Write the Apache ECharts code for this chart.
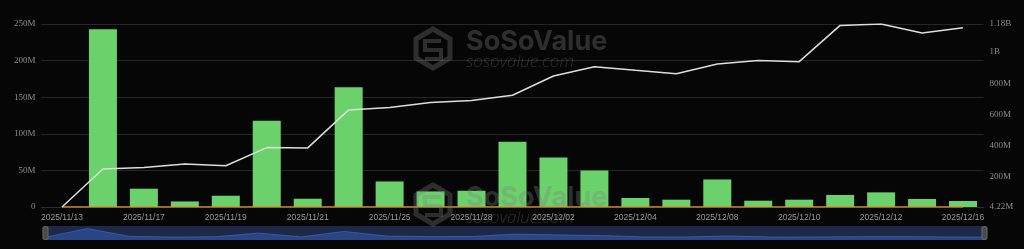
<!DOCTYPE html>
<html><head><meta charset="utf-8">
<script src="https://cdn.jsdelivr.net/npm/echarts@6/dist/echarts.min.js"></script>
<style>html,body{margin:0;padding:0;background:#060606;}#c{width:1024px;height:249px;}</style>
</head><body><div id="c"></div>
<script>
const categories = ['2025/11/13','2025/11/14','2025/11/17','2025/11/18','2025/11/19','2025/11/20','2025/11/21','2025/11/24','2025/11/25','2025/11/26','2025/11/28','2025/12/01','2025/12/02','2025/12/03','2025/12/04','2025/12/05','2025/12/08','2025/12/09','2025/12/10','2025/12/11','2025/12/12','2025/12/15','2025/12/16'];
const dailyInflow = [0, 242.8e6, 25e6, 7.6e6, 15.4e6, 117.7e6, 11.3e6, 163.7e6, 34.9e6, 21.3e6, 22.2e6, 89e6, 67.6e6, 50e6, 12.3e6, 10e6, 37.6e6, 8.6e6, 10e6, 16.4e6, 20e6, 10.9e6, 8.2e6];
const dailyOutflow = [0,0,0,0,0,0,0,0,0,0,0,0,0,0,0,0,0,0,0,0,0,0,0];
const cumulative = [4.22e6, 248e6, 258e6, 280e6, 269e6, 386e6, 384e6, 628e6, 643e6, 675e6, 688e6, 722e6, 846e6, 906e6, 883e6, 861e6, 923e6, 945e6, 938e6, 1171e6, 1180e6, 1122e6, 1156e6];
const leftMin = 0, leftMax = 250e6, leftInterval = 50e6;
const rightMin = 4.22e6, rightMax = 1.18e9;
const rightTicks = [4.22e6, 2e8, 4e8, 6e8, 8e8, 1e9, 1.18e9];

function fmt(v){
  if (v === 0) return '0';
  const trim = x => String(+x.toFixed(2));
  if (Math.abs(v) >= 1e9) return trim(v/1e9) + 'B';
  if (Math.abs(v) >= 1e6) return trim(v/1e6) + 'M';
  if (Math.abs(v) >= 1e3) return trim(v/1e3) + 'K';
  return trim(v);
}

const chart = echarts.init(document.getElementById('c'), null, {renderer:'canvas'});
const wmColor = 'rgba(128,128,128,0.33)';
function watermark(dy){
  return [
    {type:'polygon', silent:true, z:100, shape:{points:[[433,29+dy],[450,39+dy],[450,58+dy],[433,68+dy],[416,58+dy],[416,39+dy]]}, style:{fill:'none', stroke:wmColor, lineWidth:5}},
    {type:'polyline', silent:true, z:100, shape:{points:[[441,41+dy],[425,41+dy],[425,50+dy],[441,50+dy],[441,59+dy],[425,59+dy]]}, style:{fill:'none', stroke:wmColor, lineWidth:4}},
    {type:'text', silent:true, z:100, x:466, y:28+dy, style:{text:'SoSoValue', fill:wmColor, font:'bold 27px Inter'}},
    {type:'text', silent:true, z:100, x:466, y:54+dy, style:{text:'sosovalue.com', fill:wmColor, font:'italic 300 17px "Open Sans"'}}
  ];
}

chart.setOption({
  backgroundColor:'#060606',
  animation:false,
  grid:{left:41.5, right:40.5, top:24, bottom:42},
  xAxis:{
    type:'category', data:categories, boundaryGap:true,
    axisLine:{show:true, lineStyle:{color:'#2c2c2c'}},
    axisTick:{show:false},
    axisLabel:{color:'#9a9a9a', fontSize:8.5, fontFamily:'"Liberation Sans", Arial', interval:1, margin:6}
  },
  yAxis:[
    {type:'value', min:leftMin, max:leftMax, interval:leftInterval, position:'left',
     axisLine:{show:false}, axisTick:{show:false},
     splitLine:{lineStyle:{color:'#262626', width:1}},
     axisLabel:{color:'#8c8c8c', fontSize:9, fontFamily:'"Liberation Serif", "Times New Roman", serif', formatter:fmt, margin:6}},
    {type:'value', min:rightMin, max:rightMax, position:'right',
     axisLine:{show:false}, axisTick:{show:false}, splitLine:{show:false},
     axisLabel:{color:'#8c8c8c', fontSize:9, fontFamily:'"Liberation Serif", "Times New Roman", serif', formatter:fmt, margin:6, customValues:rightTicks}}
  ],
  dataZoom:[{
    type:'slider', xAxisIndex:0, start:0, end:100, left:42, right:41, top:226, height:14,
    backgroundColor:'#1b2440', borderColor:'transparent', fillerColor:'rgba(40,55,95,0.25)',
    dataBackground:{lineStyle:{color:'#3f66b4', width:1, opacity:1}, areaStyle:{color:'#2a4a92', opacity:1}},
    selectedDataBackground:{lineStyle:{color:'#3f66b4', width:1, opacity:1}, areaStyle:{color:'#2a4a92', opacity:1}},
    handleIcon:'path://M2,0 L6,0 Q8,0 8,2 L8,18 Q8,20 6,20 L2,20 Q0,20 0,18 L0,2 Q0,0 2,0 Z',
    handleSize:'90%', handleStyle:{color:'#4a4a4a', borderColor:'#6a6a6a'},
    moveHandleSize:0, showDetail:false, brushSelect:false,
    emphasis:{handleStyle:{color:'#4a4a4a'}}
  }],
  series:[
    {type:'bar', name:'Daily Net Inflow', data:dailyInflow, yAxisIndex:0, barWidth:28,
     itemStyle:{color:'#6ad16b'}, z:2},
    {type:'line', name:'Outflow', data:dailyOutflow, yAxisIndex:0, symbol:'none',
     lineStyle:{color:'#d8922e', width:1.5}, z:3},
    {type:'line', name:'Cumulative', data:cumulative, yAxisIndex:1, symbol:'none',
     lineStyle:{color:'#dedede', width:1.5}, z:4}
  ],
  graphic:[].concat(watermark(0), watermark(156))
});
</script></body></html>
